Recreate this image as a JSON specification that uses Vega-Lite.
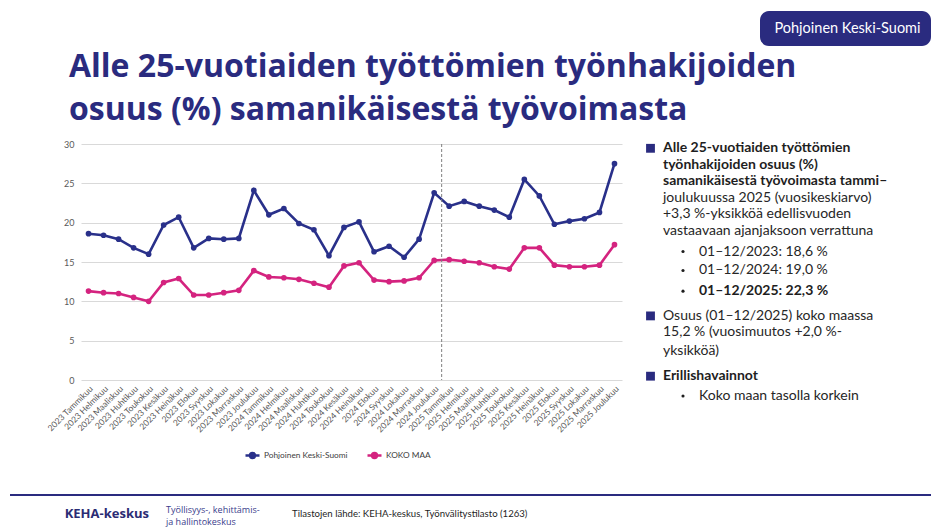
{
  "$schema": "https://vega.github.io/schema/vega-lite/v6.json",
  "background": "white",
  "padding": {"left": 10, "top": 11, "right": 0, "bottom": 0},
  "spacing": 5,
  "config": {
    "font": "Lato",
    "view": {"stroke": null},
    "title": {"font": "Lato"}
  },
  "vconcat": [
    {
      "spacing": 0,
      "hconcat": [
        {"width": 750, "height": 35, "data": {"values": []}, "mark": "text", "encoding": {}},
        {
          "width": 171, "height": 35,
          "view": {"fill": "#2A2B7F", "stroke": null, "cornerRadius": 9},
          "data": {"values": [{"alue": "Pohjoinen Keski-Suomi"}]},
          "mark": {"type": "text", "color": "white", "font": "Lato", "fontSize": 14.5, "align": "center", "baseline": "middle", "dx": 2},
          "encoding": {"text": {"field": "alue"}}
        }
      ]
    },
    {
      "width": 1, "height": 8,
      "title": {
        "text": ["Alle 25-vuotiaiden työttömien työnhakijoiden", "osuus (%) samanikäisestä työvoimasta"],
        "anchor": "start", "frame": "group", "dx": 59, "offset": 0,
        "font": "Open Sans", "fontSize": 32, "fontWeight": "bold", "color": "#2A2B7F", "lineHeight": 43
      },
      "data": {"values": []}, "mark": "text", "encoding": {}
    },
    {
      "spacing": 20,
      "hconcat": [
        {"width": 15, "height": 1, "data": {"values": []}, "mark": "text", "encoding": {}},
        {
          "width": 541, "height": 236,
          "data": {"values": [
            {"kuukausi": "2023 Tammikuu", "Pohjoinen Keski-Suomi": 18.6, "KOKO MAA": 11.3},
            {"kuukausi": "2023 Helmikuu", "Pohjoinen Keski-Suomi": 18.4, "KOKO MAA": 11.1},
            {"kuukausi": "2023 Maaliskuu", "Pohjoinen Keski-Suomi": 17.9, "KOKO MAA": 11.0},
            {"kuukausi": "2023 Huhtikuu", "Pohjoinen Keski-Suomi": 16.8, "KOKO MAA": 10.5},
            {"kuukausi": "2023 Toukokuu", "Pohjoinen Keski-Suomi": 16.0, "KOKO MAA": 10.0},
            {"kuukausi": "2023 Kesäkuu", "Pohjoinen Keski-Suomi": 19.7, "KOKO MAA": 12.4},
            {"kuukausi": "2023 Heinäkuu", "Pohjoinen Keski-Suomi": 20.7, "KOKO MAA": 12.9},
            {"kuukausi": "2023 Elokuu", "Pohjoinen Keski-Suomi": 16.8, "KOKO MAA": 10.8},
            {"kuukausi": "2023 Syyskuu", "Pohjoinen Keski-Suomi": 18.0, "KOKO MAA": 10.8},
            {"kuukausi": "2023 Lokakuu", "Pohjoinen Keski-Suomi": 17.9, "KOKO MAA": 11.1},
            {"kuukausi": "2023 Marraskuu", "Pohjoinen Keski-Suomi": 18.0, "KOKO MAA": 11.4},
            {"kuukausi": "2023 Joulukuu", "Pohjoinen Keski-Suomi": 24.1, "KOKO MAA": 13.9},
            {"kuukausi": "2024 Tammikuu", "Pohjoinen Keski-Suomi": 21.0, "KOKO MAA": 13.1},
            {"kuukausi": "2024 Helmikuu", "Pohjoinen Keski-Suomi": 21.8, "KOKO MAA": 13.0},
            {"kuukausi": "2024 Maaliskuu", "Pohjoinen Keski-Suomi": 19.9, "KOKO MAA": 12.8},
            {"kuukausi": "2024 Huhtikuu", "Pohjoinen Keski-Suomi": 19.1, "KOKO MAA": 12.3},
            {"kuukausi": "2024 Toukokuu", "Pohjoinen Keski-Suomi": 15.8, "KOKO MAA": 11.8},
            {"kuukausi": "2024 Kesäkuu", "Pohjoinen Keski-Suomi": 19.4, "KOKO MAA": 14.5},
            {"kuukausi": "2024 Heinäkuu", "Pohjoinen Keski-Suomi": 20.1, "KOKO MAA": 14.9},
            {"kuukausi": "2024 Elokuu", "Pohjoinen Keski-Suomi": 16.3, "KOKO MAA": 12.7},
            {"kuukausi": "2024 Syyskuu", "Pohjoinen Keski-Suomi": 17.0, "KOKO MAA": 12.5},
            {"kuukausi": "2024 Lokakuu", "Pohjoinen Keski-Suomi": 15.6, "KOKO MAA": 12.6},
            {"kuukausi": "2024 Marraskuu", "Pohjoinen Keski-Suomi": 17.9, "KOKO MAA": 13.0},
            {"kuukausi": "2024 Joulukuu", "Pohjoinen Keski-Suomi": 23.8, "KOKO MAA": 15.2},
            {"kuukausi": "2025 Tammikuu", "Pohjoinen Keski-Suomi": 22.1, "KOKO MAA": 15.3},
            {"kuukausi": "2025 Helmikuu", "Pohjoinen Keski-Suomi": 22.7, "KOKO MAA": 15.1},
            {"kuukausi": "2025 Maaliskuu", "Pohjoinen Keski-Suomi": 22.1, "KOKO MAA": 14.9},
            {"kuukausi": "2025 Huhtikuu", "Pohjoinen Keski-Suomi": 21.6, "KOKO MAA": 14.4},
            {"kuukausi": "2025 Toukokuu", "Pohjoinen Keski-Suomi": 20.7, "KOKO MAA": 14.1},
            {"kuukausi": "2025 Kesäkuu", "Pohjoinen Keski-Suomi": 25.5, "KOKO MAA": 16.8},
            {"kuukausi": "2025 Heinäkuu", "Pohjoinen Keski-Suomi": 23.4, "KOKO MAA": 16.8},
            {"kuukausi": "2025 Elokuu", "Pohjoinen Keski-Suomi": 19.8, "KOKO MAA": 14.6},
            {"kuukausi": "2025 Syyskuu", "Pohjoinen Keski-Suomi": 20.2, "KOKO MAA": 14.4},
            {"kuukausi": "2025 Lokakuu", "Pohjoinen Keski-Suomi": 20.5, "KOKO MAA": 14.4},
            {"kuukausi": "2025 Marraskuu", "Pohjoinen Keski-Suomi": 21.3, "KOKO MAA": 14.6},
            {"kuukausi": "2025 Joulukuu", "Pohjoinen Keski-Suomi": 27.5, "KOKO MAA": 17.2}
          ]},
          "layer": [
            {
              "transform": [{"fold": ["Pohjoinen Keski-Suomi", "KOKO MAA"], "as": ["alue", "osuus"]}],
              "mark": {"type": "line", "strokeWidth": 2.6, "point": {"filled": true, "size": 32}},
              "encoding": {
                "x": {
                  "field": "kuukausi", "type": "nominal",
                  "scale": {"type": "band", "paddingInner": 0, "paddingOuter": 0, "domain": [
                    "2023 Tammikuu", "2023 Helmikuu", "2023 Maaliskuu", "2023 Huhtikuu", "2023 Toukokuu", "2023 Kesäkuu", "2023 Heinäkuu", "2023 Elokuu", "2023 Syyskuu", "2023 Lokakuu", "2023 Marraskuu", "2023 Joulukuu",
                    "2024 Tammikuu", "2024 Helmikuu", "2024 Maaliskuu", "2024 Huhtikuu", "2024 Toukokuu", "2024 Kesäkuu", "2024 Heinäkuu", "2024 Elokuu", "2024 Syyskuu", "2024 Lokakuu", "2024 Marraskuu", "2024 Joulukuu",
                    "2025 Tammikuu", "2025 Helmikuu", "2025 Maaliskuu", "2025 Huhtikuu", "2025 Toukokuu", "2025 Kesäkuu", "2025 Heinäkuu", "2025 Elokuu", "2025 Syyskuu", "2025 Lokakuu", "2025 Marraskuu", "2025 Joulukuu"
                  ]},
                  "axis": {"title": null, "labelAngle": -45, "labelFont": "Lato", "labelFontSize": 8.5, "labelColor": "#595959", "domain": false, "ticks": false, "grid": false, "labelPadding": 4}
                },
                "y": {
                  "field": "osuus", "type": "quantitative",
                  "scale": {"domain": [0, 30]},
                  "axis": {"title": null, "values": [0, 5, 10, 15, 20, 25, 30], "labelFont": "Lato", "labelFontSize": 9, "labelColor": "#595959", "domain": false, "ticks": false, "labelPadding": 7, "gridColor": "#D9D9D9", "gridWidth": 1}
                },
                "color": {
                  "field": "alue", "type": "nominal",
                  "scale": {"domain": ["Pohjoinen Keski-Suomi", "KOKO MAA"], "range": ["#29308A", "#D4237F"]},
                  "legend": {
                    "title": null, "orient": "none", "legendX": 234, "legendY": 436, "direction": "horizontal",
                    "labelFont": "Lato", "labelFontSize": 8.3, "labelColor": "#404040", "labelOffset": 3, "columnPadding": 14,
                    "symbolType": "M-1,0H1M-0.35,0A0.35,0.35,0,1,1,0.35,0A0.35,0.35,0,1,1,-0.35,0",
                    "symbolSize": 196, "symbolStrokeWidth": 2.5
                  }
                }
              }
            },
            {
              "transform": [{"filter": "datum.kuukausi === '2025 Tammikuu'"}],
              "mark": {"type": "rule", "color": "#7F7F7F", "strokeDash": [3, 2], "strokeWidth": 1},
              "encoding": {"x": {"field": "kuukausi", "type": "nominal", "bandPosition": 0}}
            }
          ]
        },
        {
          "width": 291, "height": 345,
          "data": {"values": [
            {"rivi": 0, "taso": 0, "korostus": true, "merkki": true, "teksti": "Alle 25-vuotiaiden työttömien"},
            {"rivi": 1, "taso": 0, "korostus": true, "merkki": false, "teksti": "työnhakijoiden osuus (%)"},
            {"rivi": 2, "taso": 0, "korostus": true, "merkki": false, "teksti": "samanikäisestä työvoimasta tammi–"},
            {"rivi": 3, "taso": 0, "korostus": false, "merkki": false, "teksti": "joulukuussa 2025 (vuosikeskiarvo)"},
            {"rivi": 4, "taso": 0, "korostus": false, "merkki": false, "teksti": "+3,3 %-yksikköä edellisvuoden"},
            {"rivi": 5, "taso": 0, "korostus": false, "merkki": false, "teksti": "vastaavaan ajanjaksoon verrattuna"},
            {"rivi": 6.25, "taso": 1, "korostus": false, "merkki": true, "teksti": "01–12/2023: 18,6 %"},
            {"rivi": 7.4, "taso": 1, "korostus": false, "merkki": true, "teksti": "01–12/2024: 19,0 %"},
            {"rivi": 8.65, "taso": 1, "korostus": true, "merkki": true, "teksti": "01–12/2025: 22,3 %"},
            {"rivi": 10.15, "taso": 0, "korostus": false, "merkki": true, "teksti": "Osuus (01–12/2025) koko maassa"},
            {"rivi": 11.15, "taso": 0, "korostus": false, "merkki": false, "teksti": "15,2 % (vuosimuutos +2,0 %-"},
            {"rivi": 12.25, "taso": 0, "korostus": false, "merkki": false, "teksti": "yksikköä)"},
            {"rivi": 13.8, "taso": 0, "korostus": true, "merkki": true, "teksti": "Erillishavainnot"},
            {"rivi": 15, "taso": 1, "korostus": false, "merkki": true, "teksti": "Koko maan tasolla korkein"}
          ]},
          "encoding": {
            "x": {"field": "taso", "type": "quantitative", "scale": {"domain": [0, 1], "range": [21, 57]}, "axis": null},
            "y": {"field": "rivi", "type": "quantitative", "scale": {"domain": [0, 15], "range": [4.3, 252]}, "axis": null}
          },
          "layer": [
            {
              "transform": [{"filter": "datum.korostus"}],
              "mark": {"type": "text", "align": "left", "baseline": "middle", "font": "Lato", "fontSize": 14, "fontWeight": "bold", "color": "#1E1E1E"},
              "encoding": {"text": {"field": "teksti"}}
            },
            {
              "transform": [{"filter": "!datum.korostus"}],
              "mark": {"type": "text", "align": "left", "baseline": "middle", "font": "Lato", "fontSize": 14, "color": "#262626"},
              "encoding": {"text": {"field": "teksti"}}
            },
            {
              "transform": [{"filter": "datum.merkki && datum.taso == 0"}],
              "mark": {"type": "square", "filled": true, "size": 78, "color": "#2A2B7F", "xOffset": -12.5, "opacity": 1}
            },
            {
              "transform": [{"filter": "datum.merkki && datum.taso == 1"}],
              "mark": {"type": "circle", "size": 10, "color": "#1E1E1E", "xOffset": -16, "opacity": 1}
            }
          ]
        }
      ]
    },
    {
      "spacing": 0,
      "hconcat": [
        {
          "width": 145, "height": 2,
          "view": {"fill": "#2A2B7F", "stroke": null},
          "title": {"text": "KEHA-keskus", "orient": "bottom", "anchor": "end", "frame": "group", "dx": -6, "offset": 12, "font": "Open Sans", "fontSize": 13, "fontWeight": "bold", "color": "#2B2C74"},
          "data": {"values": []}, "mark": "text", "encoding": {}
        },
        {
          "width": 128, "height": 2,
          "view": {"fill": "#2A2B7F", "stroke": null},
          "title": {"text": ["Työllisyys-, kehittämis-", "ja hallintokeskus"], "orient": "bottom", "anchor": "start", "frame": "group", "dx": 11, "offset": 10, "font": "Open Sans", "fontSize": 9, "fontWeight": "normal", "color": "#3A3D8C", "lineHeight": 11.7},
          "data": {"values": []}, "mark": "text", "encoding": {}
        },
        {
          "width": 648, "height": 2,
          "view": {"fill": "#2A2B7F", "stroke": null},
          "title": {"text": "Tilastojen lähde: KEHA-keskus, Työnvälitystilasto (1263)", "orient": "bottom", "anchor": "start", "frame": "group", "dx": 9, "offset": 13, "font": "Lato", "fontSize": 9.6, "fontWeight": "normal", "color": "#1E1E1E"},
          "data": {"values": []}, "mark": "text", "encoding": {}
        }
      ]
    }
  ]
}
